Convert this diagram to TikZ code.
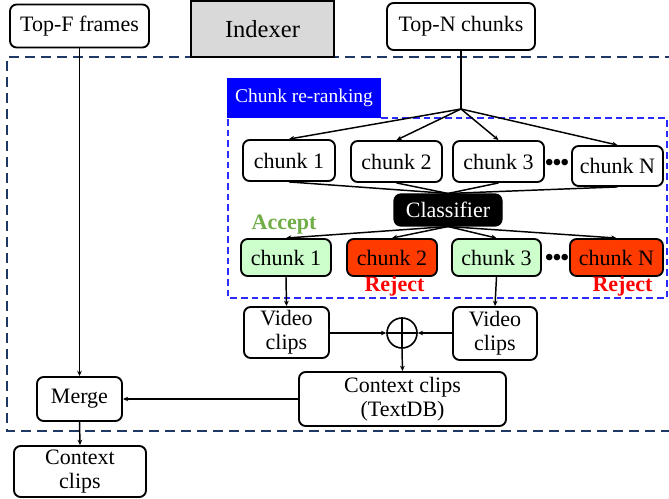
\documentclass[tikz,border=0pt]{standalone}
\usepackage{fontspec}
\setmainfont{Liberation Serif}
\usetikzlibrary{arrows.meta}
\definecolor{navy}{HTML}{203864}
\definecolor{dblue}{HTML}{2B2BFF}
\definecolor{accgreen}{HTML}{70AD47}
\definecolor{lgreen}{HTML}{CCFFCC}
\definecolor{rejred}{HTML}{FF3B00}
\definecolor{idxgray}{HTML}{D9D9D9}
\tikzset{
  box/.style={draw=black, line width=1.4pt, rounded corners=5pt, fill=white, inner sep=0pt, align=center,
    font=\fontsize{16.5}{18}\selectfont},
  wh/.style 2 args={minimum width=#1*0.75pt, minimum height=#2*0.75pt},
  conn/.style={line width=1.1pt, draw=black},
  arr/.style={conn, -{Stealth[length=4pt,width=3.5pt]}},
  lbl/.style={font=\fontsize{16.5}{18}\selectfont\bfseries, inner sep=0pt},
  dotsnode/.style={inner sep=0pt, font=\fontsize{18}{18}\selectfont\bfseries},
}
\begin{document}
\begin{tikzpicture}[x=0.75pt,y=-0.75pt]
\useasboundingbox (0,0) rectangle (669,499);
% outer dashed frame
\draw[navy, line width=1.5pt, dash pattern=on 7.5pt off 4.5pt] (675,57) -- (7,57) -- (7,431) -- (675,431);
% top boxes
\node[box, wh={139}{43}] (topf) at (79.5,26) {Top-F frames};
\node[draw=black, line width=1.6pt, fill=idxgray, inner sep=0pt, wh={143}{56}, font=\fontsize{18.4}{20}\selectfont] (idx) at (262.5,29) {Indexer};
\node[box, wh={148}{47}] (topn) at (461,26.5) {Top-N chunks};
% chunk re-ranking
\draw[dblue, line width=1.1pt, dash pattern=on 5pt off 3pt] (381,118) -- (667,118) -- (667,298) -- (228,298) -- (228,118);
\node[fill=blue, text=white, inner sep=0pt, wh={154}{40}, font=\fontsize{14.6}{16}\selectfont] (crr) at (304,98) {Chunk re-ranking};
\coordinate (junc) at (461,109);
% row 1
\node[box, wh={92}{41}] (ca1) at (289,160.5) {chunk 1};
\node[box, wh={91}{41}] (ca2) at (396.5,161.5) {chunk 2};
\node[box, wh={91}{41}] (ca3) at (498.5,161.5) {chunk 3};
\node[box, wh={91}{40}] (caN) at (617.5,166) {chunk N};
\node[dotsnode] (dots1) at (557,165) {\textbullet\kern-0.5pt\textbullet\kern-0.5pt\textbullet};
% classifier
\node[box, fill=black, text=white, line width=0.8pt, wh={108}{32}] (cls) at (448,210) {Classifier};
% row 2
\node[box, fill=lgreen, wh={90}{37}] (cb1) at (286,257.5) {chunk 1};
\node[box, fill=rejred, wh={90}{37}] (cb2) at (392,257.5) {chunk 2};
\node[box, fill=lgreen, wh={89}{37}] (cb3) at (496.5,257.5) {chunk 3};
\node[box, fill=rejred, wh={93}{37}] (cbN) at (616.5,257.5) {chunk N};
\node[dotsnode] (dots2) at (557,260) {\textbullet\kern-0.5pt\textbullet\kern-0.5pt\textbullet};
\node[lbl, text=accgreen] (acc) at (284,225) {Accept};
\node[lbl, text=red] (rej1) at (394.5,286) {Reject};
\node[lbl, text=red] (rej2) at (622.5,286) {Reject};
% video clips
\node[box, wh={85}{51}, font=\fontsize{16.5}{18}\selectfont] (vl) at (286.5,332.5) {Video\\clips};
\node[box, wh={84}{53}, font=\fontsize{16.5}{18}\selectfont] (vr) at (495,333.5) {Video\\clips};
\node[circle, draw=black, line width=1.2pt, minimum size=30*0.75pt, inner sep=0pt] (plus) at (402,333) {};
\draw[line width=1.2pt] (plus.north) -- (plus.south) (plus.west) -- (plus.east);
\node[box, wh={207}{54}, font=\fontsize{16.5}{18}\selectfont] (ctx) at (402.5,399) {Context clips\\(TextDB)};
\node[box, wh={85}{44}] (merge) at (79.5,399) {Merge};
\node[box, wh={132}{51}, font=\fontsize{16.5}{18}\selectfont] (final) at (80,471.5) {Context\\clips};
% connectors
\draw[conn] (topn.south) -- (junc);
\foreach \n in {ca1,ca2,ca3,caN} \draw[arr] (junc) -- (\n.north);
\foreach \n in {ca1,ca2,ca3,caN} \draw[conn] (\n.south) -- (cls.north);
\foreach \n in {cb1,cb2,cb3,cbN} \draw[arr] (cls.south) -- (\n.north);
\draw[arr] (cb1.south) -- (vl.north);
\draw[arr] (cb3.south) -- (vr.north);
\draw[arr] (vl.east |- plus.west) -- (plus.west);
\draw[arr] (vr.west |- plus.east) -- (plus.east);
\draw[arr] (plus.south) -- (ctx.north);
\draw[arr] (ctx.west) -- (merge.east);
\draw[arr] (topf.south) -- (merge.north);
\draw[arr] (merge.south) -- (final.north);
\end{tikzpicture}
\end{document}
